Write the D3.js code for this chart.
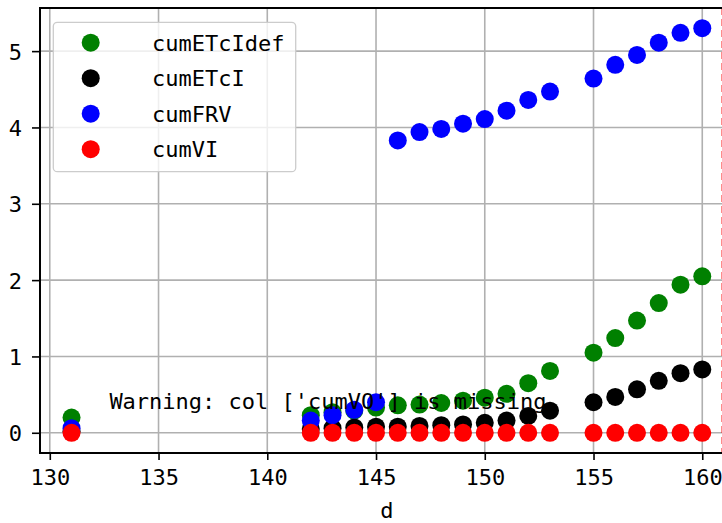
<!DOCTYPE html>
<html>
<head>
<meta charset="utf-8">
<script src="https://cdn.jsdelivr.net/npm/d3@7"></script>
<style>
  html, body { margin: 0; padding: 0; background: #fff; }
  svg { display: block; }
  text { font-family: "DejaVu Sans Mono", "Liberation Mono", monospace; }
</style>
</head>
<body>
<svg id="chart" width="722" height="523"></svg>
<script>
// ---- data ----
const days = [131, 142, 143, 144, 145, 146, 147, 148, 149, 150, 151, 152, 153, 155, 156, 157, 158, 159, 160];
const cumETcldef = [0.20, 0.23, 0.27, 0.29, 0.33, 0.36, 0.37, 0.39, 0.42, 0.46, 0.51, 0.65, 0.81, 1.05, 1.24, 1.47, 1.70, 1.94, 2.05];
const cumETcl    = [0.02, 0.05, 0.06, 0.07, 0.08, 0.08, 0.09, 0.10, 0.11, 0.13, 0.16, 0.22, 0.29, 0.40, 0.47, 0.57, 0.68, 0.78, 0.83];
const cumFRV     = [0.06, 0.16, 0.23, 0.30, 0.40, 3.83, 3.94, 3.98, 4.05, 4.11, 4.22, 4.36, 4.47, 4.64, 4.82, 4.95, 5.11, 5.24, 5.30];
const cumVl      = [0, 0, 0, 0, 0, 0, 0, 0, 0, 0, 0, 0, 0, 0, 0, 0, 0, 0, 0];
const seriesNames = ["cumETcIdef", "cumETcI", "cumFRV", "cumVI"];
const seriesColors = ["green", "black", "blue", "red"];
const xTicks = [130, 135, 140, 145, 150, 155, 160];
const yTicks = [0, 1, 2, 3, 4, 5];
const markerLineX = 160.9;
const warningText = "Warning: col ['cumVO'] is missing";
const xLabel = "d";

const allSeries = [cumETcldef, cumETcl, cumFRV, cumVl];

// ---- layout ----
const svg = d3.select("#chart");
const pLeft = 40, pTop = 8, pBottom = 453;
const xMin = 129.55, xMax = 161.45;
const xs = d3.scaleLinear().domain([xMin, xMax]).range([pLeft, 733.8]);
const ys = d3.scaleLinear().domain([-0.265, 5.565]).range([pBottom, pTop]);
const pRight = xs(xMax);

// grid
const grid = svg.append("g");
xTicks.forEach(t => grid.append("line")
  .attr("x1", xs(t)).attr("x2", xs(t)).attr("y1", pTop).attr("y2", pBottom)
  .attr("stroke", "#b0b0b0").attr("stroke-width", 1.6));
yTicks.forEach(t => grid.append("line")
  .attr("x1", pLeft).attr("x2", pRight).attr("y1", ys(t)).attr("y2", ys(t))
  .attr("stroke", "#b0b0b0").attr("stroke-width", 1.6));

// dashed vertical marker
svg.append("line")
  .attr("x1", xs(markerLineX)).attr("x2", xs(markerLineX))
  .attr("y1", pTop).attr("y2", pBottom)
  .attr("stroke", "red").attr("stroke-opacity", 0.5)
  .attr("stroke-width", 1.5).attr("stroke-dasharray", "7,4");

// points
allSeries.forEach((vals, i) => {
  svg.append("g").selectAll("circle")
    .data(days.map((d, j) => [d, vals[j]]))
    .join("circle")
    .attr("cx", d => xs(d[0])).attr("cy", d => ys(d[1]))
    .attr("r", 9).attr("fill", seriesColors[i]);
});

// axes
const xAxis = svg.append("g").attr("transform", `translate(0,${pBottom})`)
  .call(d3.axisBottom(xs).tickValues(xTicks).tickSize(7).tickPadding(6).tickFormat(d3.format("d")));
const yAxis = svg.append("g").attr("transform", `translate(${pLeft},0)`)
  .call(d3.axisLeft(ys).tickValues(yTicks).tickSize(8).tickPadding(6).tickFormat(d3.format("d")));
[xAxis, yAxis].forEach(a => {
  a.select(".domain").remove();
  a.selectAll(".tick line").attr("stroke", "#000").attr("stroke-width", 1.6);
  a.selectAll(".tick text").attr("fill", "#000")
    .style("font-family", "'DejaVu Sans Mono', monospace").style("font-size", "22px");
});
yAxis.selectAll(".tick text").attr("x", -18).attr("dy", "0.36em");
xAxis.selectAll(".tick text").attr("y", 15).attr("dy", "0.75em");

// spines
svg.append("line").attr("x1", pLeft).attr("x2", pLeft).attr("y1", pTop).attr("y2", pBottom)
  .attr("stroke", "#000").attr("stroke-width", 2);
svg.append("line").attr("x1", pLeft - 1).attr("x2", pRight).attr("y1", pBottom).attr("y2", pBottom)
  .attr("stroke", "#000").attr("stroke-width", 2);
svg.append("line").attr("x1", pLeft - 1).attr("x2", pRight).attr("y1", pTop).attr("y2", pTop)
  .attr("stroke", "#000").attr("stroke-width", 2);

// x label
svg.append("text").attr("x", (pLeft + pRight) / 2).attr("y", 518)
  .attr("text-anchor", "middle").style("font-size", "22px").text(xLabel);

// legend
const lg = svg.append("g");
lg.append("rect").attr("x", 53.3).attr("y", 22.3).attr("width", 242.4).attr("height", 149.4)
  .attr("rx", 4).attr("fill", "#fff").attr("fill-opacity", 0.8)
  .attr("stroke", "#cccccc").attr("stroke-width", 1.3);
seriesNames.forEach((n, i) => {
  const cy = 42.7 + i * 35.5;
  lg.append("circle").attr("cx", 90.7).attr("cy", cy).attr("r", 9).attr("fill", seriesColors[i]);
  lg.append("text").attr("x", 152).attr("y", cy).attr("dy", "0.36em")
    .style("font-size", "22px").text(n);
});

// warning
svg.append("text").attr("x", pLeft + 0.1 * (pRight - pLeft)).attr("y", pBottom - 0.1 * (pBottom - pTop))
  .style("font-size", "22px").attr("fill", "#000").text(warningText);
</script>
</body>
</html>
